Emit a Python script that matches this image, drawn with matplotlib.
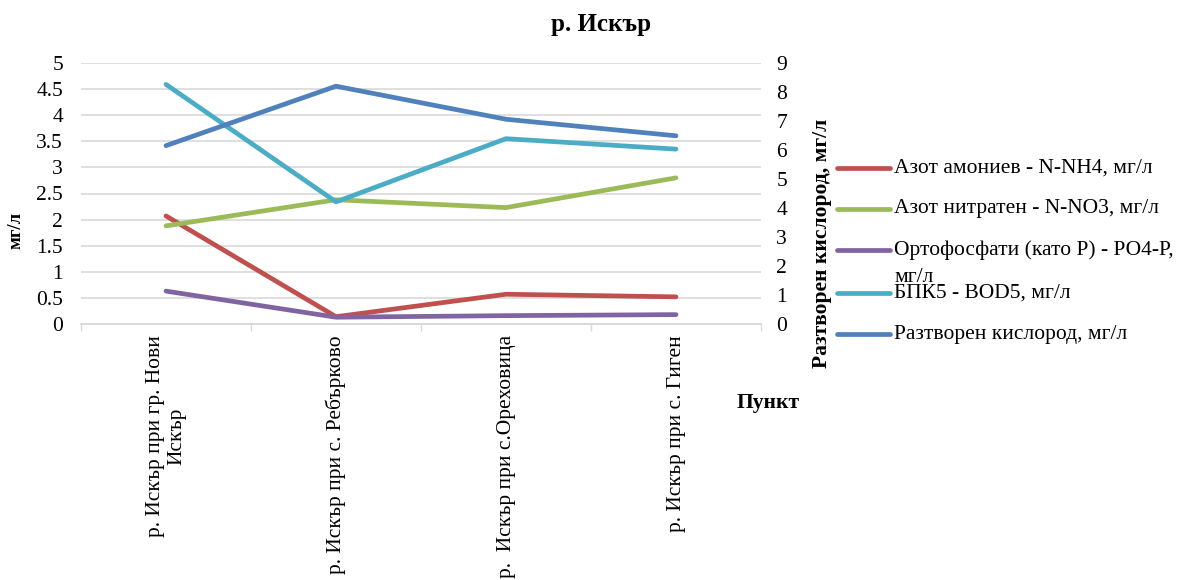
import matplotlib
matplotlib.use("Agg")
import matplotlib.pyplot as plt
from matplotlib.lines import Line2D

plt.rcParams['font.family'] = ['Liberation Serif', 'DejaVu Serif']

categories = ["р. Искър при гр. Нови\nИскър", "р. Искър при с. Ребърково",
              "р.  Искър при с.Ореховица", "р. Искър при с. Гиген"]
series_names = ["Азот амониев - N-NH4, мг/л", "Азот нитратен - N-NO3, мг/л",
                "Ортофосфати (като Р) - РО4-Р, мг/л", "БПК5 - BOD5, мг/л",
                "Разтворен кислород, мг/л"]
nh4 = [2.07, 0.14, 0.57, 0.52]
no3 = [1.88, 2.38, 2.23, 2.80]
po4 = [0.63, 0.13, 0.16, 0.18]
bod5 = [4.59, 2.34, 3.55, 3.35]
oxygen = [6.15, 8.20, 7.06, 6.49]
colors = ["#C0504D", "#9BBB59", "#8064A2", "#4BACC6", "#4F81BD"]

W, H = 1178, 580
FS = 15.5
fig = plt.figure(figsize=(W / 100, H / 100), dpi=100)
x0, x1, yb, yt = 81, 761, 324, 63
ax = fig.add_axes([x0 / W, (H - yb) / H, (x1 - x0) / W, (yb - yt) / H])
ax2 = ax.twinx()

xs = list(range(len(categories)))
lw = 3.4
for vals, c in zip([nh4, no3, po4, bod5], colors[:4]):
    ax.plot(xs, vals, color=c, lw=lw, solid_capstyle='round', solid_joinstyle='round', zorder=3)
ax2.plot(xs, oxygen, color=colors[4], lw=lw, solid_capstyle='round', solid_joinstyle='round', zorder=3)

ax.set_xlim(-0.5, len(categories) - 0.5)
ax.set_ylim(0, 5)
ax2.set_ylim(0, 9)
ax.set_yticks([i * 0.5 for i in range(11)])
ax.set_yticklabels(["0", "0.5", "1", "1.5", "2", "2.5", "3", "3.5", "4", "4.5", "5"])
ax2.set_yticks(range(10))

ax.set_xticks([i - 0.5 for i in range(len(categories) + 1)])
ax.set_xticklabels([])
ax.set_xticks(xs, minor=True)
ax.set_xticklabels(categories, minor=True, rotation=90, fontsize=FS, ha='center', va='top',
                   multialignment='center')
ax.tick_params(axis='x', which='major', length=5, color='#d9d9d9', width=1)
ax.tick_params(axis='x', which='minor', length=0, pad=8)
ax.tick_params(axis='y', length=0, labelsize=FS, pad=13)
ax2.tick_params(axis='y', length=0, labelsize=FS, pad=11)

ax.grid(axis='y', color='#d9d9d9', lw=1.2)
ax.set_axisbelow(True)
for a in (ax, ax2):
    for s in ('left', 'right', 'top'):
        a.spines[s].set_visible(False)
    a.spines['bottom'].set_color('#d9d9d9')
    a.spines['bottom'].set_linewidth(1.2)

fig.text(601 / W, 1 - 25 / H, "р. Искър", ha='center', va='center', fontsize=18, fontweight='bold')
fig.text(16 / W, 1 - 230 / H, "мг/л", rotation=90, ha='center', va='center', fontsize=13.5, fontweight='bold')
fig.text(822 / W, 1 - 243 / H, "Разтворен кислород, мг/л", rotation=90, ha='center', va='center',
         fontsize=FS, fontweight='bold')
fig.text(768 / W, 1 - 403 / H, "Пункт", ha='center', va='center', fontsize=FS, fontweight='bold')

# legend drawn manually
leg_y = [168, 209, 250, 293, 334]
for name, c, y in zip(series_names, colors, leg_y):
    fig.add_artist(Line2D([837 / W, 890 / W], [1 - y / H, 1 - y / H], color=c, lw=lw,
                          solid_capstyle='round', transform=fig.transFigure))
    if name.startswith("Орто"):
        fig.text(894 / W, 1 - y / H, "Ортофосфати (като Р) - РО4-Р,", ha='left', va='center', fontsize=FS)
        fig.text(894 / W, 1 - (y + 27) / H, "мг/л", ha='left', va='center', fontsize=FS)
    else:
        fig.text(894 / W, 1 - y / H, name, ha='left', va='center', fontsize=FS)

fig.savefig("out.png", dpi=100)
